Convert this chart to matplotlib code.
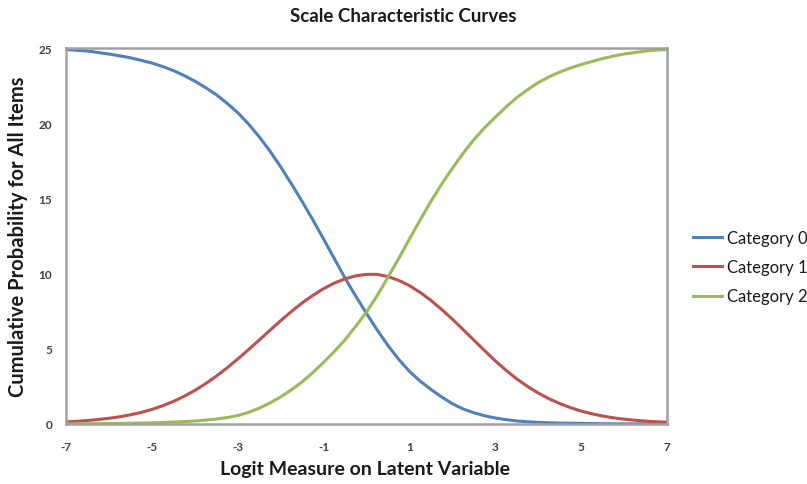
import matplotlib
matplotlib.use("Agg")
import matplotlib.pyplot as plt

x_vals = [-7, -6.75, -6.5, -6.25, -6, -5.75, -5.5, -5.25, -5, -4.75, -4.5, -4.25,
          -4, -3.75, -3.5, -3.25, -3, -2.75, -2.5, -2.25, -2, -1.75, -1.5, -1.25,
          -1, -0.75, -0.5, -0.25, 0, 0.25, 0.5, 0.75, 1, 1.25, 1.5, 1.75, 2, 2.25,
          2.5, 2.75, 3, 3.25, 3.5, 3.75, 4, 4.25, 4.5, 4.75, 5, 5.25, 5.5, 5.75,
          6, 6.25, 6.5, 6.75, 7]
category0 = [24.9, 24.85, 24.8, 24.7, 24.6, 24.48, 24.35, 24.18, 24.0, 23.77, 23.5,
             23.17, 22.8, 22.37, 21.9, 21.33, 20.7, 19.95, 19.1, 18.15, 17.1, 15.97,
             14.8, 13.57, 12.3, 11.0, 9.7, 8.5, 7.35, 6.25, 5.22, 4.3, 3.5, 2.85, 2.3,
             1.8, 1.35, 1.0, 0.75, 0.55, 0.4, 0.29, 0.2, 0.15, 0.11, 0.08, 0.06,
             0.05, 0.04, 0.03, 0.02, 0.015, 0.01, 0.01, 0.01, 0.005, 0.0]
category1 = [0.14, 0.18, 0.23, 0.3, 0.38, 0.48, 0.61, 0.77, 0.97, 1.21, 1.5, 1.84,
             2.23, 2.68, 3.18, 3.73, 4.32, 4.94, 5.58, 6.23, 6.87, 7.48, 8.05, 8.55,
             9.0, 9.37, 9.65, 9.85, 9.95, 9.95, 9.8, 9.55, 9.2, 8.75, 8.22, 7.62,
             6.97, 6.28, 5.58, 4.88, 4.2, 3.57, 3.0, 2.5, 2.06, 1.68, 1.36, 1.09,
             0.86, 0.68, 0.53, 0.41, 0.32, 0.25, 0.19, 0.15, 0.12]
category2 = [0.01, 0.01, 0.02, 0.02, 0.03, 0.04, 0.05, 0.06, 0.08, 0.1, 0.13, 0.16,
             0.2, 0.26, 0.33, 0.43, 0.56, 0.77, 1.05, 1.4, 1.8, 2.27, 2.8, 3.42, 4.1,
             4.82, 5.6, 6.5, 7.45, 8.55, 9.75, 11.0, 12.3, 13.57, 14.8, 15.95, 17.0,
             18.0, 18.9, 19.7, 20.4, 21.08, 21.7, 22.22, 22.7, 23.08, 23.4, 23.67,
             23.9, 24.1, 24.3, 24.46, 24.6, 24.7, 24.8, 24.86, 24.9]
series_names = ["Category 0", "Category 1", "Category 2"]
x_ticks = [-7, -5, -3, -1, 1, 3, 5, 7]
y_ticks = [0, 5, 10, 15, 20, 25]

plt.rcParams['font.family'] = ['Lato', 'DejaVu Sans']

W, H = 807, 485
fig = plt.figure(figsize=(W / 100, H / 100), dpi=100)
ax = fig.add_axes([66 / W, 1 - 425 / H, (667 - 66) / W, (425 - 49) / H])

colors = ["#4F81BD", "#C0504D", "#9BBB59"]
for ys, name, c in zip([category0, category1, category2], series_names, colors):
    ax.plot(x_vals, ys, color=c, lw=2.2, label=name, solid_joinstyle='round')

ax.set_xlim(-7, 7)
ax.set_ylim(0, 25)
ax.set_xticks(x_ticks)
ax.set_yticks(y_ticks)
ax.set_xticklabels([str(t) for t in x_ticks], fontsize=8.5, fontweight='bold', color='#404040')
ax.set_yticklabels([str(t) for t in y_ticks], fontsize=8.5, fontweight='bold', color='#404040')
ax.tick_params(axis='x', length=0, pad=12)
ax.tick_params(axis='y', length=0, pad=10)
for s in ax.spines.values():
    s.set_color('#a0a0a0')
    s.set_linewidth(1.8)

fig.text(365 / W, 1 - 470 / H, "Logit Measure on Latent Variable", ha='center', va='center',
         fontsize=14, fontweight='bold', color='#1a1a1a')
fig.text(18 / W, 1 - 237 / H, "Cumulative Probability for All Items", ha='center', va='center',
         rotation=90, fontsize=14.5, fontweight='bold', color='#1a1a1a')
fig.text(403 / W, 1 - 17 / H, "Scale Characteristic Curves", ha='center', va='center',
         fontsize=13.5, fontweight='bold', color='#1a1a1a')

leg = fig.legend(loc='center left', bbox_to_anchor=(693 / W, 1 - 268 / H), frameon=False,
                 fontsize=12, handlelength=1.75, handletextpad=0.3, labelspacing=0.8,
                 borderpad=0, borderaxespad=0)
for t in leg.get_texts():
    t.set_color('#1a1a1a')

fig.savefig("out.png", dpi=100)
